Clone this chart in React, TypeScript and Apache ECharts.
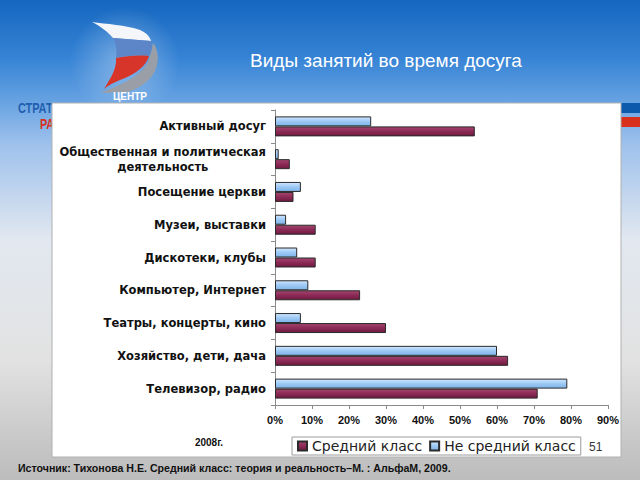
import React, { useEffect, useRef } from "react";
import * as echarts from "echarts";

const categories = [
  "Активный досуг",
  "Общественная и политическая\nдеятельность",
  "Посещение церкви",
  "Музеи, выставки",
  "Дискотеки, клубы",
  "Компьютер, Интернет",
  "Театры, концерты, кино",
  "Хозяйство, дети, дача",
  "Телевизор, радио",
];
const middleClass = [54, 4, 5, 11, 11, 23, 30, 63, 71];
const nonMiddleClass = [26, 1, 7, 3, 6, 9, 7, 60, 79];
const seriesNames = ["Средний класс", "Не средний класс"];
const titleText = "Виды занятий во время досуга";
const sourceText = "Источник: Тихонова Н.Е. Средний класс: теория и реальность–М. : АльфаМ, 2009.";
const yearText = "2008г.";
const pageNumber = "51";

const LABEL_FONT = "'DejaVu Sans', sans-serif";

export default function App() {
  const ref = useRef<HTMLDivElement>(null);
  useEffect(() => {
    if (!ref.current) return;
    echarts.graphic.registerShape(
      "sailWhite",
      echarts.graphic.extendPath("M92,22 C106,24 126,25 140,30 C147,33 150,37 151,41 L113,38 C108,32 100,26 92,22 Z", {})
    );
    echarts.graphic.registerShape(
      "sailBlue",
      echarts.graphic.extendPath("M113,38 L151,41 C153,46 151,52 149,56 C136,55 124,56 116,58 C117,50 116,44 113,38 Z", {})
    );
    echarts.graphic.registerShape(
      "sailRed",
      echarts.graphic.extendPath("M116,58 C126,56 138,55 149,56 C146,66 136,74 120,80 C113,83 107,86 104,89 C110,79 117,69 116,58 Z", {})
    );
    echarts.graphic.registerShape(
      "sailGray",
      echarts.graphic.extendPath("M153,43 C159,50 159,62 155,71 C150,81 140,88 128,92 L100,93 C112,88 140,79 148,62 C151,54 152,48 153,43 Z", {})
    );
    const chart = echarts.init(ref.current, undefined, { renderer: "svg" });
    const blueGrad = {
      type: "linear", x: 0, y: 0, x2: 0, y2: 1,
      colorStops: [
        { offset: 0, color: "#cfe6ff" },
        { offset: 0.5, color: "#9cc9f5" },
        { offset: 1, color: "#7fb3e8" },
      ],
    };
    const redGrad = {
      type: "linear", x: 0, y: 0, x2: 0, y2: 1,
      colorStops: [
        { offset: 0, color: "#a3456f" },
        { offset: 0.5, color: "#8c2a56" },
        { offset: 1, color: "#6e1a40" },
      ],
    };
    const option: any = {
      animation: false,
      graphic: [
        {
          type: "rect", z: -20, shape: { x: 0, y: 0, width: 640, height: 480 },
          style: {
            fill: {
              type: "linear", x: 0, y: 0, x2: 0, y2: 1,
              colorStops: [
                { offset: 0, color: "#1466bf" },
                { offset: 0.12, color: "#3683d5" },
                { offset: 0.21, color: "#66a2e2" },
                { offset: 0.3, color: "#9ec1ec" },
                { offset: 0.5, color: "#e2e8f0" },
                { offset: 0.75, color: "#e2e2e2" },
                { offset: 0.93, color: "#c6c6c6" },
                { offset: 1, color: "#bcbcbc" },
              ],
            },
          },
        },
        {
          type: "circle", z: -19, shape: { cx: 125, cy: 62, r: 55 },
          style: {
            fill: {
              type: "radial", x: 0.5, y: 0.5, r: 0.5,
              colorStops: [
                { offset: 0, color: "rgba(255,255,255,0.35)" },
                { offset: 1, color: "rgba(255,255,255,0)" },
              ],
            },
          },
        },
        { type: "rect", z: -19, shape: { x: 621, y: 103, width: 19, height: 10 }, style: { fill: "#0b5aac" } },
        { type: "rect", z: -19, shape: { x: 621, y: 117, width: 19, height: 10 }, style: { fill: "#d9301c" } },
        {
          type: "text", z: -19, x: 18, y: 109, scaleX: 0.78,
          style: { text: "СТРАТ", fill: "#1f5fb0", font: "bold 14px 'Liberation Sans', sans-serif", verticalAlign: "middle" },
        },
        {
          type: "text", z: -19, x: 40, y: 125, scaleX: 0.78,
          style: { text: "РА", fill: "#d9301c", font: "bold 14px 'Liberation Sans', sans-serif", verticalAlign: "middle" },
        },
        { type: "sailGray", z: -18, x: 0, y: 0, style: { fill: "#9a9ea6" } },
        { type: "sailWhite", z: -18, x: 0, y: 0, style: { fill: "#f4f6fa" } },
        { type: "sailBlue", z: -18, x: 0, y: 0, style: { fill: "#5d86c8" } },
        { type: "sailRed", z: -18, x: 0, y: 0, style: { fill: "#d8352a" } },
        {
          type: "text", z: -18, x: 130, y: 96,
          style: { text: "ЦЕНТР", fill: "#ffffff", font: "bold 10px 'Liberation Sans', sans-serif", align: "center", verticalAlign: "middle" },
        },
        {
          type: "text", z: -18, x: 386, y: 60,
          style: { text: titleText, fill: "#ffffff", font: "19px 'Liberation Sans', Arial, sans-serif", align: "center", verticalAlign: "middle" },
        },
        {
          type: "rect", z: -15, shape: { x: 52, y: 103, width: 569, height: 354 },
          style: { fill: "#ffffff", stroke: "#b0b0b0", lineWidth: 1 },
        },
        {
          type: "text", z: 5, x: 209, y: 442,
          style: { text: yearText, fill: "#111", font: "bold 10px 'Liberation Sans', Arial, sans-serif", align: "center", verticalAlign: "middle" },
        },
        {
          type: "text", z: 5, x: 589, y: 447,
          style: { text: pageNumber, fill: "#333", font: "12px 'Liberation Sans', Arial, sans-serif", verticalAlign: "middle" },
        },
        {
          type: "text", z: 5, x: 18, y: 468,
          style: { text: sourceText, fill: "#111", font: "bold 10.6px 'Liberation Sans', Arial, sans-serif", verticalAlign: "middle" },
        },
      ],
      grid: { left: 275, right: 32, top: 110, bottom: 75, containLabel: false },
      legend: {
        data: seriesNames,
        left: 292,
        top: 437,
        orient: "horizontal",
        backgroundColor: "#ffffff",
        borderColor: "#9a9a9a",
        borderWidth: 1,
        padding: [2, 5, 2, 5],
        itemGap: 7,
        itemWidth: 9,
        itemHeight: 9,
        icon: "rect",
        textStyle: { fontFamily: LABEL_FONT, fontSize: 14, color: "#222" },
      },
      xAxis: {
        type: "value",
        min: 0,
        max: 90,
        interval: 10,
        axisLine: { show: true, lineStyle: { color: "#8a8a8a" } },
        axisTick: { show: true, length: 4, lineStyle: { color: "#8a8a8a" } },
        splitLine: { show: false },
        axisLabel: {
          formatter: "{value}%",
          fontFamily: "'Liberation Sans', Arial, sans-serif",
          fontWeight: "bold",
          fontSize: 11,
          color: "#111",
          margin: 9,
        },
      },
      yAxis: {
        type: "category",
        data: categories,
        inverse: true,
        axisLine: { show: true, lineStyle: { color: "#8a8a8a" } },
        axisTick: { show: true, length: 4, lineStyle: { color: "#8a8a8a" } },
        axisLabel: {
          fontFamily: LABEL_FONT,
          fontWeight: "bold",
          fontSize: 11.5,
          color: "#111",
          margin: 9,
          lineHeight: 15,
          formatter: (v: string) =>
            v.indexOf("\n") >= 0
              ? v.split("\n").map((s) => `{c|${s}}`).join("\n")
              : v,
          rich: {
            c: {
              align: "center",
              fontFamily: LABEL_FONT,
              fontWeight: "bold",
              fontSize: 11.5,
              color: "#111",
              lineHeight: 15,
            },
          },
        },
      },
      series: [
        {
          name: seriesNames[1],
          type: "bar",
          data: nonMiddleClass,
          barWidth: 10,
          barGap: "0%",
          itemStyle: { color: blueGrad, borderColor: "#2a2a2a", borderWidth: 1 },
        },
        {
          name: seriesNames[0],
          type: "bar",
          data: middleClass,
          barWidth: 10,
          barGap: "0%",
          itemStyle: { color: redGrad, borderColor: "#2a2a2a", borderWidth: 1 },
        },
      ],
    };
    chart.setOption(option);
    return () => chart.dispose();
  }, []);
  return (
    <div
      ref={ref}
      style={{ position: "absolute", left: 0, top: 0, width: 640, height: 480 }}
    />
  );
}
